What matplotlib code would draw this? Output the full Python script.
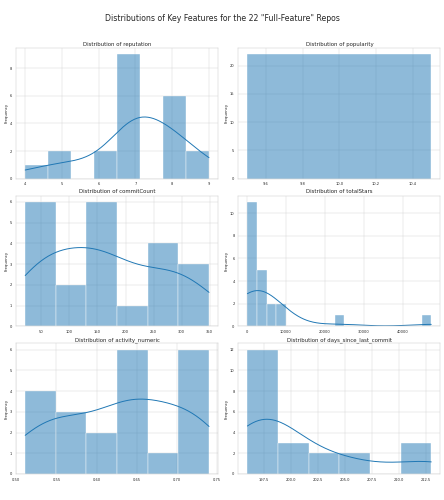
import numpy as np
import pandas as pd
import matplotlib
matplotlib.use("Agg")
import matplotlib.pyplot as plt
import seaborn as sns

# ---- data (22 repos) ----
reputation = [4, 5, 5, 6, 6, 7, 7, 7, 7, 7, 7, 7, 7, 7, 8, 8, 8, 8, 8, 8, 9, 9]
popularity = [10] * 22
commitCount = [21, 30, 42, 55, 63, 72, 90, 115, 135, 142, 150, 160, 170, 180,
               210, 245, 260, 275, 290, 305, 330, 349]
totalStars = [150, 320, 480, 650, 820, 1000, 1200, 1450, 1700, 2000, 2400,
              2900, 3300, 3800, 4300, 4900, 5600, 6800, 8200, 9500, 23800, 47300]
activity_numeric = [0.511, 0.52, 0.53, 0.545, 0.555, 0.565, 0.58, 0.60, 0.615,
                    0.63, 0.64, 0.645, 0.65, 0.655, 0.66, 0.68,
                    0.705, 0.71, 0.72, 0.725, 0.73, 0.740]
days_since_last_commit = [196, 196, 196, 197, 197, 197, 197, 197, 198, 198, 198, 198,
                          199, 200, 201, 202, 204, 205, 207, 212, 213, 213]

features = ["reputation", "popularity", "commitCount", "totalStars",
            "activity_numeric", "days_since_last_commit"]
bins_per_feature = [8, 1, 6, 19, 6, 6]
df = pd.DataFrame({
    "reputation": reputation,
    "popularity": popularity,
    "commitCount": commitCount,
    "totalStars": totalStars,
    "activity_numeric": activity_numeric,
    "days_since_last_commit": days_since_last_commit,
})

sns.set_theme(style="whitegrid")
plt.rcParams['font.family'] = ['DejaVu Sans']

fig, axes = plt.subplots(3, 2, figsize=(16, 18), dpi=500 / 18)
fig.subplots_adjust(left=0.036, right=0.991, top=0.904, bottom=0.052,
                    wspace=0.099, hspace=0.13)
fig.suptitle('Distributions of Key Features for the 22 "Full-Feature" Repos',
             fontsize=20, y=0.972)

for ax, feat, nb in zip(axes.flat, features, bins_per_feature):
    use_kde = df[feat].nunique() > 1
    sns.histplot(df[feat], bins=nb, kde=use_kde, ax=ax, color="#1f77b4",
                 alpha=0.5, line_kws={"linewidth": 2.5})
    ax.set_title(f"Distribution of {feat}", fontsize=14)
    ax.set_xlabel("")
    ax.set_ylabel("Frequency", fontsize=10)
    ax.tick_params(labelsize=9.5)

fig.savefig("out.png", dpi=500 / 18)
